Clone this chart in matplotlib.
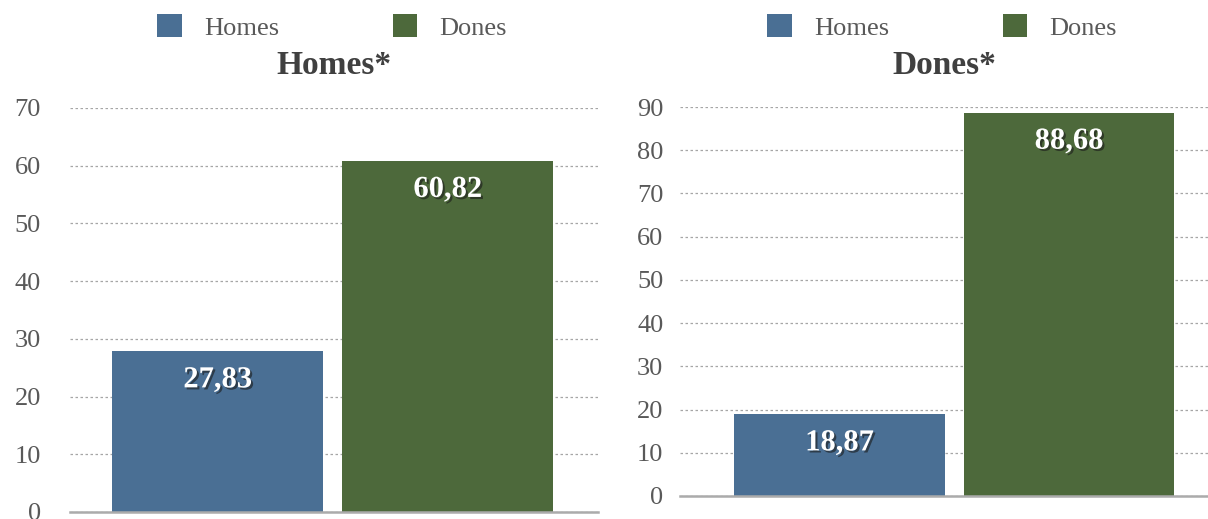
import matplotlib
matplotlib.use("Agg")
import matplotlib.pyplot as plt
from matplotlib.patches import Patch
import matplotlib.patheffects as pe

plt.rcParams['font.family'] = ['Liberation Serif', 'DejaVu Serif']

series = ["Homes", "Dones"]
colors = ["#4A6F94", "#4D693B"]
titles = ["Homes*", "Dones*"]
values_left = [27.83, 60.82]
values_right = [18.87, 88.68]
labels_left = ["27,83", "60,82"]
labels_right = ["18,87", "88,68"]
yticks_left = [0, 10, 20, 30, 40, 50, 60, 70]
yticks_right = [0, 10, 20, 30, 40, 50, 60, 70, 80, 90]

W, H = 1208, 519
fig = plt.figure(figsize=(W / 100, H / 100), dpi=100)

def px_rect(x0, x1, ytop, ybot):
    return [x0 / W, 1 - ybot / H, (x1 - x0) / W, (ybot - ytop) / H]

panels = [
    dict(rect=px_rect(70, 598, 108, 512), vals=values_left, labs=labels_left,
         ticks=yticks_left, ylim=(0, 70), xlim=(-0.641, 1.654), pad=21, title=titles[0]),
    dict(rect=px_rect(680, 1208, 107, 496), vals=values_right, labs=labels_right,
         ticks=yticks_right, ylim=(0, 90), xlim=(-0.695, 1.606), pad=12, title=titles[1]),
]

for p in panels:
    ax = fig.add_axes(p["rect"])
    x = list(range(len(series)))
    ax.bar(x, p["vals"], width=0.917, color=colors, zorder=3)
    ax.set_xlim(*p["xlim"])
    ax.set_ylim(*p["ylim"])
    ax.set_yticks(p["ticks"])
    ax.set_xticks([])
    for s in ["left", "right", "top"]:
        ax.spines[s].set_visible(False)
    ax.spines["bottom"].set_color("#ababab")
    ax.spines["bottom"].set_linewidth(1.8)
    ax.spines["bottom"].set_zorder(4)
    ax.tick_params(axis="y", length=0, pad=p["pad"], labelsize=19, labelcolor="#595959")
    ax.yaxis.grid(True, linestyle=(0, (2, 2)), color="#a6a6a6", linewidth=0.9, zorder=0)
    ax.set_axisbelow(True)
    for xi, v, lab in zip(x, p["vals"], p["labs"]):
        ax.annotate(lab, (xi, v), xytext=(0, -20.5), textcoords="offset points",
                    ha="center", va="center", fontsize=22, fontweight="bold", color="white",
                    zorder=5,
                    path_effects=[pe.SimplePatchShadow(offset=(1.5, -1.5), shadow_rgbFace="#1a1a1a", alpha=0.6),
                                  pe.Normal()])
    cx = p["rect"][0] + p["rect"][2] / 2
    fig.text(cx, 1 - 65 / H, p["title"], ha="center", va="center", fontsize=24,
             fontweight="bold", color="#404040")
    handles = [Patch(facecolor=c, edgecolor="none") for c in colors]
    fig.legend(handles, series, loc="center", bbox_to_anchor=(cx - 2 / W, 1 - 27 / H),
               ncol=2, frameon=False, fontsize=19, labelcolor="#595959",
               handlelength=0.92, handleheight=0.92, handletextpad=0.85, columnspacing=4.3)

fig.savefig("out.png", dpi=100)
